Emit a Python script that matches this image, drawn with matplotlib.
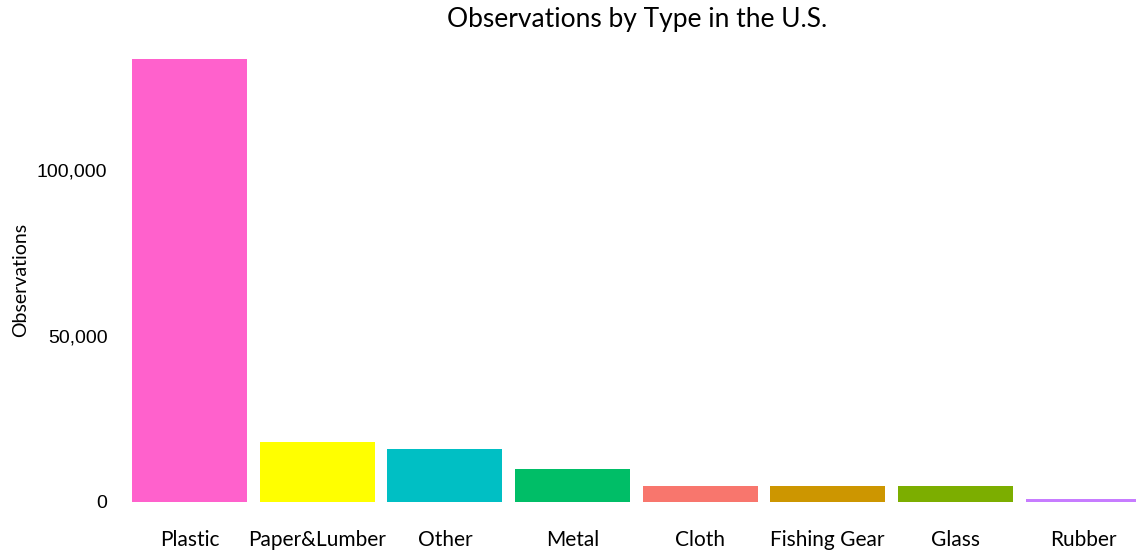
import numpy as np
import matplotlib.pyplot as plt
from matplotlib.ticker import FuncFormatter

# ======================================================
# Data
# ======================================================
types = ["Plastic", "Paper&Lumber", "Other", "Metal", "Cloth",
         "Fishing Gear", "Glass", "Rubber"]
observations = [133400, 18200, 15900, 9900, 4700, 4700, 4700, 800]
colors = ["#FF61CC", "#FFFF00", "#00BFC4", "#00BE67", "#F8766D",
          "#CD9600", "#7CAE00", "#C77CFF"]

# ======================================================
# Plot
# ======================================================
fig = plt.figure(figsize=(11.36, 5.57), dpi=100)
ax = fig.add_axes([113 / 1136, 55 / 557, 1 - 113 / 1136, 465 / 557])

x = np.arange(len(types))
ax.bar(x, observations, width=0.9, color=colors)

ax.set_xlim(-0.6, len(types) - 1 + 53 / 127.6)
ax.set_ylim(0, 140000)
ax.set_yticks([0, 50000, 100000])
ax.yaxis.set_major_formatter(FuncFormatter(lambda v, p: f"{int(v):,}"))
ax.set_xticks(x)
ax.set_xticklabels(types, fontfamily="Lato", fontsize=15)
for lbl in ax.get_yticklabels():
    lbl.set_fontfamily("Liberation Sans")
    lbl.set_fontsize(14)

ax.tick_params(axis="x", length=0, pad=20)
ax.tick_params(axis="y", length=0, pad=4)
for s in ax.spines.values():
    s.set_visible(False)

ax.set_ylabel("Observations", fontfamily="Lato", fontsize=14)
ax.yaxis.set_label_coords(-84 / 1023, 0.477)

fig.text(637 / 1136, 1 - 20 / 557, "Observations by Type in the U.S.",
         ha="center", va="center", fontfamily="Lato", fontsize=19)

plt.savefig("out.png", dpi=100)
plt.close()
